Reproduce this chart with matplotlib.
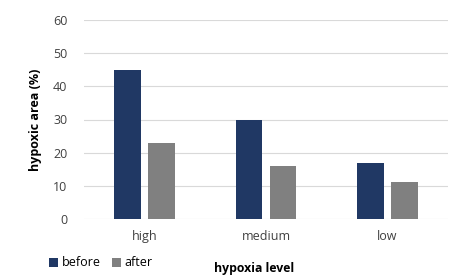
import matplotlib
matplotlib.use("Agg")
import matplotlib.pyplot as plt
import numpy as np

plt.rcParams['font.family'] = ['Open Sans', 'DejaVu Sans']

levels = ["high", "medium", "low"]
before = [45, 30, 17]
after = [23, 16, 11.2]
yticks = [0, 10, 20, 30, 40, 50, 60]

fig = plt.figure(figsize=(4.55, 2.78), dpi=100)
ax = fig.add_axes([84/455, 1-219/278, 364/455, 199/278])

x = np.arange(len(levels))
w = 0.222
ax.bar(x - 0.14, before, w, color="#203864", label="before", zorder=3)
ax.bar(x + 0.14, after, w, color="#808080", label="after", zorder=3)

ax.set_xlim(-0.5, 2.5)
ax.set_ylim(0, 60)
ax.set_yticks(yticks)
ax.set_xticks(x)
ax.set_xticklabels(levels)
ax.grid(axis="y", color="#d9d9d9", linewidth=0.8, zorder=0)
for s in ax.spines.values():
    s.set_visible(False)
ax.tick_params(axis="both", length=0, labelsize=9, labelcolor="#404040")
ax.tick_params(axis="y", pad=12)
ax.tick_params(axis="x", pad=8)

ax.set_ylabel("hypoxic area (%)", fontsize=9, fontweight="bold")
ax.yaxis.set_label_coords(-42/364, 0.5)
ax.set_xlabel("hypoxia level", fontsize=8.8, fontweight="bold")
ax.xaxis.set_label_coords((254-84)/364, -(262-219)/199)

ax.legend(loc="center left", bbox_to_anchor=(44/455, 1-263/278), bbox_transform=fig.transFigure,
          ncol=2, frameon=False, fontsize=9, handlelength=0.7, handleheight=0.7,
          handletextpad=0.3, columnspacing=0.9, borderaxespad=0)

fig.savefig("out.png", dpi=100)
